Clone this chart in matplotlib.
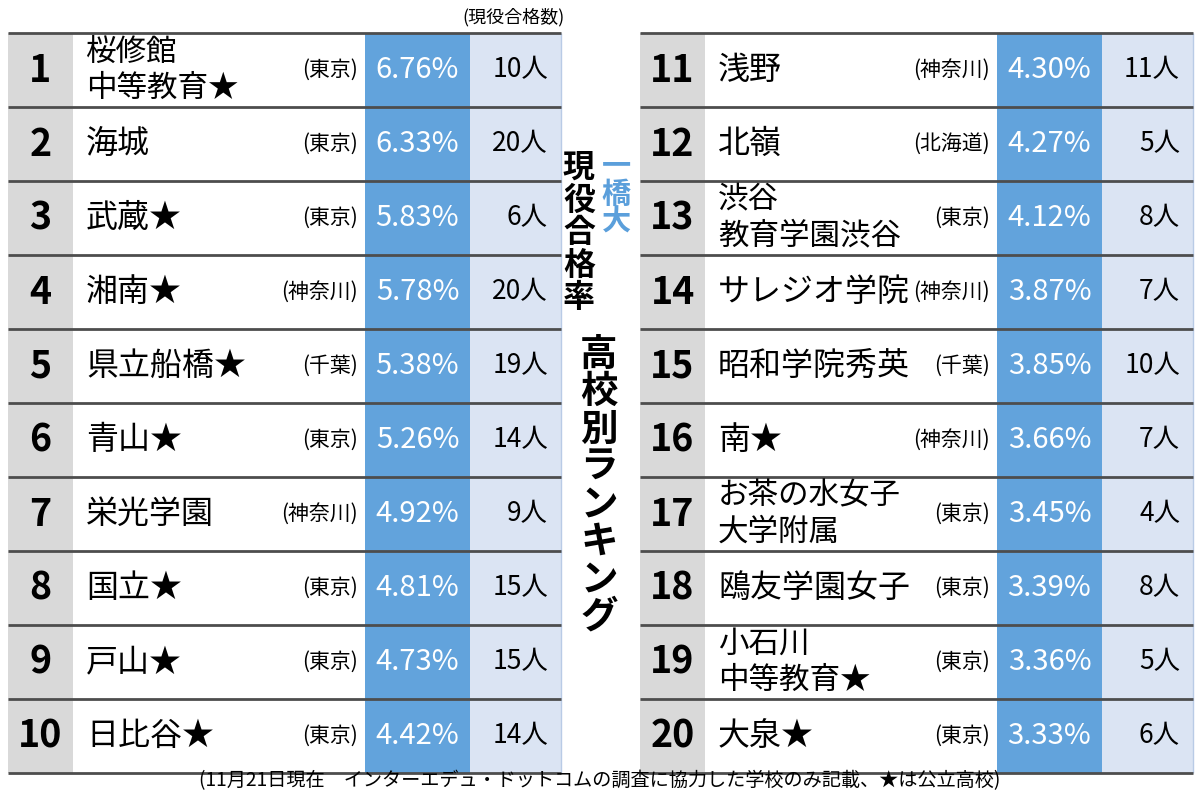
import matplotlib
matplotlib.use("Agg")
import matplotlib.pyplot as plt
from matplotlib.patches import Rectangle

plt.rcParams['font.family'] = ['Noto Sans CJK JP', 'DejaVu Sans']

# data
ranks = list(range(1, 21))
schools = ["桜修館\n中等教育★", "海城", "武蔵★", "湘南★", "県立船橋★",
           "青山★", "栄光学園", "国立★", "戸山★", "日比谷★",
           "浅野", "北嶺", "渋谷\n教育学園渋谷", "サレジオ学院", "昭和学院秀英",
           "南★", "お茶の水女子\n大学附属", "鴎友学園女子", "小石川\n中等教育★", "大泉★"]
prefs = ["東京", "東京", "東京", "神奈川", "千葉", "東京", "神奈川", "東京", "東京", "東京",
         "神奈川", "北海道", "東京", "神奈川", "千葉", "神奈川", "東京", "東京", "東京", "東京"]
rates = [6.76, 6.33, 5.83, 5.78, 5.38, 5.26, 4.92, 4.81, 4.73, 4.42,
         4.30, 4.27, 4.12, 3.87, 3.85, 3.66, 3.45, 3.39, 3.36, 3.33]
counts = [10, 20, 6, 20, 19, 14, 9, 15, 15, 14,
          11, 5, 8, 7, 10, 7, 4, 8, 5, 6]

title_blue = "一橋大"
title_black = "現役合格率"
title_main = "高校別ランキング"
header = "(現役合格数)"
footnote = "(11月21日現在　インターエデュ・ドットコムの調査に協力した学校のみ記載、★は公立高校)"

# layout (pixels)
TOP = 33
ROW_H = 74
ROWS = 10
TABLE_X = [8, 640]
COL_W = [65, 292, 105, 91]
GRAY = "#d9d9d9"
BLUE = "#62a3dc"
LIGHT = "#dbe4f3"
LINE = "#4d4d4d"

fig = plt.figure(figsize=(12, 8), dpi=100)
ax = fig.add_axes([0, 0, 1, 1])
ax.set_xlim(0, 1200)
ax.set_ylim(800, 0)
ax.axis("off")

for t, x0 in enumerate(TABLE_X):
    xs = [x0]
    for w in COL_W:
        xs.append(xs[-1] + w)
    height = ROW_H * ROWS
    # column backgrounds
    ax.add_patch(Rectangle((xs[0], TOP), COL_W[0], height, color=GRAY, lw=0))
    ax.add_patch(Rectangle((xs[2], TOP), COL_W[2], height, color=BLUE, lw=0))
    ax.add_patch(Rectangle((xs[3], TOP), COL_W[3], height, color=LIGHT, lw=0))
    ax.vlines(xs[4], TOP, TOP + height, color="#b9cbe6", lw=1)
    # row separators
    ax.hlines([TOP + ROW_H * i for i in range(ROWS + 1)], xs[0], xs[4], color=LINE, lw=2)

    for r in range(ROWS):
        i = t * ROWS + r
        yc = TOP + ROW_H * (r + 0.5)
        ax.text((xs[0] + xs[1]) / 2, yc, str(ranks[i]), ha="center", va="center",
                fontsize=27, fontweight="bold", color="black")
        lines = schools[i].split("\n")
        if len(lines) == 1:
            ax.text(xs[1] + 13, yc, lines[0], ha="left", va="center", fontsize=23)
        else:
            ax.text(xs[1] + 13, yc - 18, lines[0], ha="left", va="center", fontsize=22)
            ax.text(xs[1] + 13, yc + 18, lines[1], ha="left", va="center", fontsize=22)
        ax.text(xs[2] - 7, yc, "(" + prefs[i] + ")", ha="right", va="center", fontsize=15)
        ax.text((xs[2] + xs[3]) / 2, yc, "%.2f%%" % rates[i], ha="center", va="center",
                fontsize=21, color="white")
        ax.text(xs[4] - 13, yc, "%d人" % counts[i], ha="right", va="center", fontsize=19)

# vertical titles in the middle
for k, ch in enumerate(title_black):
    ax.text(579, 168 + k * 32.6, ch, ha="center", va="center", fontsize=23, fontweight="bold")
for k, ch in enumerate(title_blue):
    ax.text(616, 165 + k * 28.5, ch, ha="center", va="center", fontsize=21,
            fontweight="bold", color="#5b9fdb")
for k, ch in enumerate(title_main):
    ax.text(599, 354 + k * 37.5, ch, ha="center", va="center", fontsize=27, fontweight="bold")

ax.text(514, 17, header, ha="center", va="center", fontsize=13)
ax.text(600, 781, footnote, ha="center", va="center", fontsize=13.8)

fig.savefig("out.png", dpi=100)
